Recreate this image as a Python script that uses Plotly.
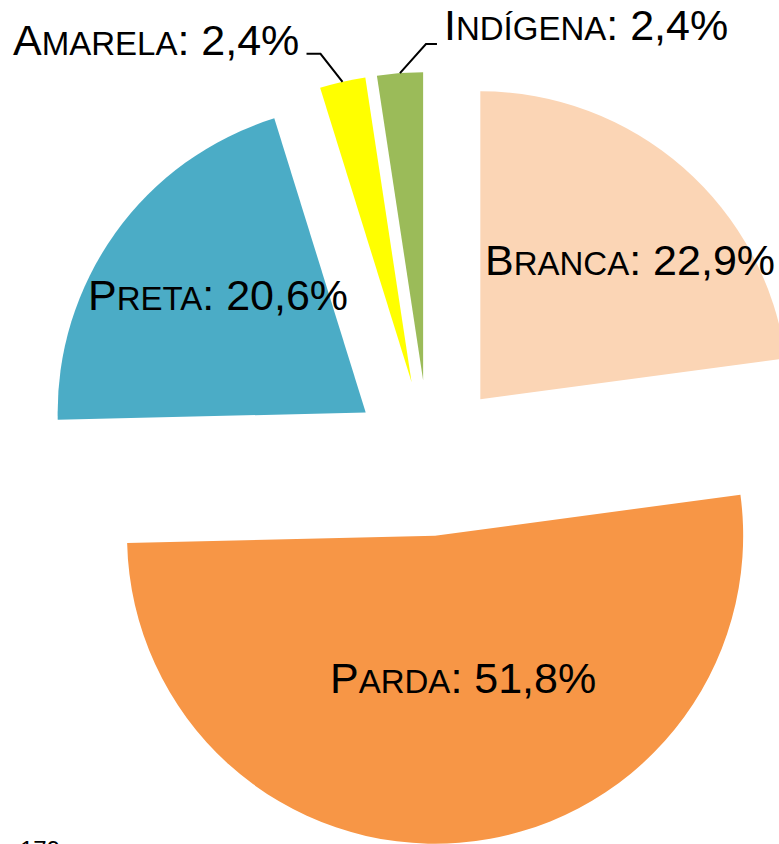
import math
import plotly.graph_objects as go

# ---- data ----
categories = ["Branca", "Parda", "Preta", "Amarela", "Indígena"]
values = [22.9, 51.8, 20.6, 2.4, 2.4]
value_labels = ["22,9%", "51,8%", "20,6%", "2,4%", "2,4%"]
colors = ["#FBD5B5", "#F79646", "#4BACC6", "#FFFF00", "#9BBB59"]
page_label = "179"

# ---- layout / style ----
W, H = 815, 844
ML, MR, MT, MB = 43, 0, 72, 0
PULL = 0.253
FONT = "Arial, Liberation Sans, Helvetica, sans-serif"
BIG, SMALL = 43, 33

PW, PH = W - ML - MR, H - MT - MB
CX, CY = ML + PW / 2, MT + PH / 2
R = min(PW, PH) / 2 / (1 + PULL)


def px2paper(x, y):
    return (x - ML) / PW, 1 - (y - MT) / PH


def direc(a):
    r = math.radians(a)
    return math.sin(r), -math.cos(r)


def smallcaps(word):
    return (word[0].upper() + '<span style="font-size:%dpx">%s</span>' % (SMALL, word[1:].upper()))


total = sum(values)
bis = []
acc = 0.0
for v in values:
    bis.append((acc + v / 2) / total * 360)
    acc += v

# label placement: inside labels (radial fraction, angle offset)
inside = {0: (0.664, 6.0), 1: (0.47, -6.8), 2: (0.613, 2.7)}
# outside labels: elbow offset, horizontal length, label offset
outside = {3: ((-22, -28), -14, (-6, -13.5), "right"),
           4: ((26, -29), 11, (5, -19), "left")}

fig = go.Figure(go.Pie(
    labels=categories, values=values, sort=False, direction="clockwise", rotation=0,
    pull=[PULL] * len(values), textinfo="none", hoverinfo="skip",
    marker=dict(colors=colors, line=dict(width=0)),
    domain=dict(x=[0, 1], y=[0, 1]), showlegend=False,
))

annotations = []
shapes = []
for i, cat in enumerate(categories):
    dx, dy = direc(bis[i])
    vx, vy = CX + PULL * R * dx, CY + PULL * R * dy
    text = smallcaps(cat) + ": " + value_labels[i]
    if i in inside:
        rf, da = inside[i]
        ex, ey = direc(bis[i] + da)
        lx, ly = vx + rf * R * ex, vy + rf * R * ey
        px, py = px2paper(lx, ly)
        annotations.append(dict(x=px, y=py, xref="paper", yref="paper", text=text,
                                showarrow=False, xanchor="center", yanchor="middle",
                                font=dict(family=FONT, size=BIG, color="black")))
    else:
        (edx, edy), hl, (ox, oy), side = outside[i]
        ax, ay = vx + R * dx, vy + R * dy
        bx, by = ax + edx, ay + edy
        cx2, cy2 = bx + hl, by
        p0, p1, p2 = px2paper(ax, ay), px2paper(bx, by), px2paper(cx2, cy2)
        shapes.append(dict(type="path", xref="paper", yref="paper",
                           path="M %f,%f L %f,%f L %f,%f" % (p0[0], p0[1], p1[0], p1[1], p2[0], p2[1]),
                           line=dict(color="black", width=2)))
        lx, ly = px2paper(cx2 + ox, cy2 + oy)
        annotations.append(dict(x=lx, y=ly, xref="paper", yref="paper", text=text,
                                showarrow=False, xanchor=side, yanchor="middle",
                                font=dict(family=FONT, size=BIG, color="black")))

# page number, partially visible at the bottom edge as in the reference
pnx, pny = px2paper(18, 833.5)
annotations.append(dict(x=pnx, y=pny, xref="paper", yref="paper", text=page_label,
                        showarrow=False, xanchor="left", yanchor="top",
                        font=dict(family=FONT, size=24, color="black")))

fig.update_layout(
    width=W, height=H, autosize=False,
    margin=dict(l=ML, r=MR, t=MT, b=MB, pad=0),
    paper_bgcolor="white", plot_bgcolor="white",
    annotations=annotations, shapes=shapes,
)

fig.write_html("out.html", include_plotlyjs=True, config={"displayModeBar": False},
               post_script="document.body.style.margin='0';document.body.style.overflow='hidden';"
                           "document.documentElement.style.overflow='hidden';")
